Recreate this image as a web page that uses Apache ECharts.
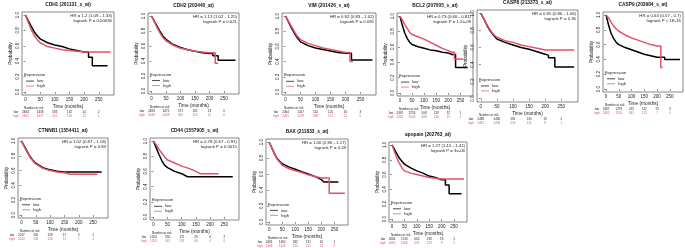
<!DOCTYPE html>
<html>
<head>
<meta charset="utf-8">
<script src="https://cdn.jsdelivr.net/npm/echarts@6/dist/echarts.min.js"></script>
<style>
  html, body { margin: 0; padding: 0; background: #fff; }
  #chart { width: 685px; height: 248px; }
</style>
</head>
<body>
<div id="chart"></div>
<script>
// panel titles and stats
const titles = [
  'CDH1 (201131_s_at)', 'CDH2 (203440_at)', 'VIM (201426_s_at)', 'BCL2 (207005_s_at)',
  'CASP8 (213373_s_at)', 'CASP9 (203984_s_at)', 'CTNNB1 (1554411_at)', 'CD44 (1557905_s_at)',
  'BAX (211833_s_at)', 'apopain (202763_at)'
]
const hrTexts = [
  'HR = 1.2 (1.09 - 1.33)', 'HR = 1.13 (1.02 - 1.25)', 'HR = 0.92 (0.83 - 1.02)', 'HR = 0.73 (0.66 - 0.81)',
  'HR = 0.95 (0.86 - 1.06)', 'HR = 0.63 (0.57 - 0.7)', 'HR = 1.02 (0.87 - 1.18)', 'HR = 0.78 (0.67 - 0.91)',
  'HR = 1.06 (0.96 - 1.17)', 'HR = 1.27 (1.15 - 1.41)'
]
const pTexts = [
  'logrank P = 0.00036', 'logrank P = 0.021', 'logrank P = 0.095', 'logrank P = 1.2e-09',
  'logrank P = 0.36', 'logrank P < 1E-16', 'logrank P = 0.84', 'logrank P = 0.0015',
  'logrank P = 0.28', 'logrank P = 3e-06'
]

// number at risk
const riskTimes = [0, 50, 100, 150, 200, 250]
const riskLow = [
  [2464, 1458, 583, 132, 14, 2], [2483, 1475, 571, 132, 13, 3], [2464, 1417, 552, 125, 16, 3],
  [2467, 1254, 508, 118, 12, 1], [2488, 1460, 581, 135, 19, 2], [2467, 1279, 475, 122, 15, 3],
  [2017, 550, 158, 17, 5, 1], [1554, 550, 172, 26, 4, 2], [2461, 1460, 582, 131, 14, 1],
  [2464, 1519, 605, 133, 18, 1]
]
const riskHigh = [
  [2465, 1427, 551, 114, 13, 1], [2444, 1408, 565, 114, 12, 0], [2465, 1479, 580, 121, 11, 0],
  [2462, 1530, 608, 130, 15, 2], [2441, 1433, 555, 111, 8, 1], [2462, 1505, 641, 123, 7, 0],
  [2020, 534, 106, 11, 1, 1], [1553, 545, 176, 40, 4, 0], [2448, 1423, 574, 115, 13, 2],
  [2465, 1366, 531, 113, 9, 2]
]

// survival curves [months, probability]
const cdh1Low = [[0,1],[10,0.92],[20,0.85],[30,0.78],[40,0.73],[50,0.69],[75,0.64],[100,0.61],[125,0.59],[150,0.56],[175,0.54],[200,0.52],[215,0.52],[215,0.45],[228,0.45],[228,0.34],[280,0.34]]
const cdh1High = [[0,1],[10,0.9],[20,0.81],[30,0.73],[40,0.68],[50,0.64],[75,0.59],[100,0.57],[125,0.55],[150,0.54],[175,0.53],[200,0.52],[290,0.52]]
const cdh2Low = [[0,1],[10,0.93],[20,0.86],[30,0.79],[40,0.73],[50,0.69],[75,0.62],[100,0.58],[125,0.55],[150,0.53],[175,0.51],[200,0.5],[212,0.5],[212,0.47],[230,0.47],[230,0.41],[290,0.41]]
const cdh2High = [[0,1],[10,0.92],[20,0.84],[30,0.77],[40,0.71],[50,0.67],[75,0.61],[100,0.57],[125,0.55],[150,0.53],[175,0.52],[200,0.51],[220,0.51],[220,0.37],[230,0.37]]
const vimLow = [[0,1],[10,0.92],[20,0.84],[30,0.77],[40,0.71],[50,0.66],[75,0.61],[100,0.58],[125,0.56],[150,0.54],[175,0.52],[200,0.51],[220,0.51],[220,0.42],[290,0.42]]
const vimHigh = [[0,1],[10,0.93],[20,0.86],[30,0.79],[40,0.73],[50,0.69],[75,0.64],[100,0.61],[125,0.58],[150,0.56],[175,0.54],[200,0.52],[215,0.52],[215,0.4],[225,0.4]]
const bcl2Low = [[0,1],[10,0.88],[20,0.78],[30,0.71],[40,0.66],[50,0.63],[75,0.6],[100,0.58],[125,0.56],[150,0.55],[175,0.53],[200,0.52],[215,0.5],[230,0.5],[230,0.33],[280,0.33]]
const bcl2High = [[0,1],[10,0.95],[20,0.89],[30,0.84],[40,0.79],[50,0.76],[75,0.73],[100,0.7],[125,0.66],[150,0.62],[175,0.58],[200,0.55],[215,0.53],[225,0.53],[225,0.44],[260,0.44]]
const casp8Low = [[0,1],[10,0.93],[20,0.85],[30,0.79],[40,0.74],[50,0.7],[75,0.66],[100,0.63],[125,0.6],[150,0.58],[175,0.55],[200,0.52],[210,0.51],[210,0.48],[230,0.48],[230,0.37],[290,0.37]]
const casp8High = [[0,1],[10,0.93],[20,0.86],[30,0.8],[40,0.75],[50,0.72],[75,0.68],[100,0.66],[125,0.63],[150,0.61],[175,0.59],[200,0.57],[290,0.57]]
const casp9Low = [[0,1],[10,0.86],[20,0.75],[30,0.68],[40,0.63],[50,0.6],[75,0.56],[100,0.53],[125,0.5],[150,0.47],[175,0.45],[200,0.43],[230,0.43],[230,0.4],[290,0.4]]
const casp9High = [[0,1],[10,0.96],[20,0.9],[30,0.85],[40,0.81],[50,0.78],[75,0.73],[100,0.69],[125,0.66],[150,0.63],[175,0.6],[200,0.58],[215,0.58],[215,0.29],[222,0.29]]
const ctnnb1Low = [[0,1],[10,0.93],[20,0.86],[30,0.79],[40,0.74],[50,0.7],[75,0.64],[100,0.61],[125,0.59],[150,0.58],[280,0.58]]
const ctnnb1High = [[0,1],[10,0.92],[20,0.85],[30,0.78],[40,0.73],[50,0.69],[75,0.63],[100,0.6],[125,0.58],[150,0.57],[170,0.55],[265,0.55]]
const cd44Low = [[0,1],[10,0.91],[20,0.82],[30,0.74],[40,0.68],[50,0.65],[75,0.6],[100,0.57],[120,0.53],[280,0.53]]
const cd44High = [[0,1],[10,0.95],[20,0.89],[30,0.84],[40,0.79],[50,0.75],[75,0.71],[100,0.67],[125,0.64],[150,0.6],[165,0.57],[230,0.57]]
const baxLow = [[0,1],[10,0.93],[20,0.86],[30,0.8],[40,0.76],[50,0.73],[75,0.69],[100,0.66],[125,0.63],[150,0.6],[175,0.57],[200,0.53],[210,0.5],[265,0.5]]
const baxHigh = [[0,1],[10,0.93],[20,0.86],[30,0.79],[40,0.75],[50,0.71],[75,0.67],[100,0.64],[125,0.62],[150,0.59],[175,0.57],[200,0.55],[230,0.55],[230,0.36],[290,0.36]]
const apopainLow = [[0,1],[10,0.94],[20,0.88],[30,0.82],[40,0.78],[50,0.74],[75,0.69],[100,0.65],[125,0.62],[150,0.58],[175,0.56],[200,0.53],[215,0.53],[215,0.46],[230,0.46],[230,0.34],[280,0.34]]
const apopainHigh = [[0,1],[10,0.91],[20,0.82],[30,0.75],[40,0.69],[50,0.65],[75,0.62],[100,0.6],[125,0.58],[150,0.56],[175,0.55],[200,0.54],[290,0.54]]

const lowCurves = [cdh1Low, cdh2Low, vimLow, bcl2Low, casp8Low, casp9Low, ctnnb1Low, cd44Low, baxLow, apopainLow]
const highCurves = [cdh1High, cdh2High, vimHigh, bcl2High, casp8High, casp9High, ctnnb1High, cd44High, baxHigh, apopainHigh]

// plot boxes: left, top, width, height (px)
const boxes = [
  [22, 12, 92, 83], [148, 13, 91, 81], [282, 13, 94, 82], [397, 13, 76, 83], [477, 10, 101, 92],
  [603, 12, 80, 80], [18, 138, 90, 80], [150, 138, 89, 82], [266, 139, 82, 86], [389, 142, 78, 80]
]

const RED = '#DF536B'
const FONT = 'Liberation Sans'
const xTicks = [0, 50, 100, 150, 200, 250]
const yTicks = [0, 0.2, 0.4, 0.6, 0.8, 1]

const chart = echarts.init(document.getElementById('chart'))

const grids = [], xAxes = [], yAxes = [], series = []
boxes.forEach((b, i) => {
  grids.push({
    left: b[0], top: b[1], width: b[2], height: b[3],
    show: true, borderColor: '#555', borderWidth: 0.7, backgroundColor: '#fff',
  })
  xAxes.push({
    gridIndex: i, type: 'value', min: -12, max: 302,
    axisLine: { show: false },
    axisTick: { show: true, length: 2, customValues: xTicks, lineStyle: { color: '#444', width: 0.6 } },
    axisLabel: { customValues: xTicks, fontSize: 4.5, margin: 2, color: '#222', fontFamily: FONT },
    splitLine: { show: false },
    name: 'Time (months)', nameLocation: 'middle', nameGap: 9,
    nameTextStyle: { fontSize: 4.8, color: '#222', fontFamily: FONT },
  })
  yAxes.push({
    gridIndex: i, type: 'value', min: -0.04, max: 1.04,
    axisLine: { show: false },
    axisTick: { show: true, length: 2, customValues: yTicks, lineStyle: { color: '#444', width: 0.6 } },
    axisLabel: {
      customValues: yTicks, fontSize: 4.5, margin: 2, rotate: 90, color: '#222', fontFamily: FONT,
      formatter: (v) => v.toFixed(1),
    },
    splitLine: { show: false },
    name: 'Probability', nameLocation: 'middle', nameGap: 9, nameRotate: 90,
    nameTextStyle: { fontSize: 4.8, color: '#222', fontFamily: FONT },
  })
  series.push({
    type: 'line', xAxisIndex: i, yAxisIndex: i, data: lowCurves[i],
    showSymbol: false, silent: true, lineStyle: { color: '#000', width: 1.5 }, z: 3,
  })
  series.push({
    type: 'line', xAxisIndex: i, yAxisIndex: i, data: highCurves[i],
    showSymbol: false, silent: true, lineStyle: { color: RED, width: 1.5 }, z: 4,
  })
})

chart.setOption({
  animation: false,
  backgroundColor: '#fff',
  grid: grids,
  xAxis: xAxes,
  yAxis: yAxes,
  series,
})

// texts: titles, stats, legend, risk tables
const graphics = []
const txt = (x, y, text, opts) => graphics.push({
  type: 'text', x, y, silent: true,
  style: Object.assign({ text, fontSize: 4.3, fontFamily: FONT, fill: '#222', textVerticalAlign: 'middle' }, opts),
})
boxes.forEach((b, i) => {
  const [l, t, w, h] = b
  txt(l + w / 2, t - 7, titles[i], { textAlign: 'center', fontWeight: 'bold', fontSize: 4.8, fill: '#111' })
  txt(l + w - 2, t + 4, hrTexts[i], { textAlign: 'right' })
  txt(l + w - 2, t + 9, pTexts[i], { textAlign: 'right' })
  // legend
  const ly = t + h * 0.76
  txt(l + 2, ly, 'Expression', { fontSize: 4.3 })
  graphics.push({ type: 'line', silent: true, shape: { x1: l + 4, y1: ly + 6, x2: l + 12, y2: ly + 6 }, style: { stroke: '#000', lineWidth: 0.7 } })
  graphics.push({ type: 'line', silent: true, shape: { x1: l + 4, y1: ly + 11, x2: l + 12, y2: ly + 11 }, style: { stroke: RED, lineWidth: 0.7 } })
  txt(l + 15, ly + 6, 'low', {})
  txt(l + 15, ly + 11, 'high', {})
  // number at risk
  const by = t + h
  txt(l + 2, by + 13, 'Number at risk', { fontSize: 3 })
  txt(l - 6, by + 17, 'low', { fontSize: 3, textAlign: 'center' })
  txt(l - 6, by + 21, 'high', { fontSize: 3, textAlign: 'center', fill: RED })
  riskTimes.forEach((tm, k) => {
    const px = chart.convertToPixel({ xAxisIndex: i }, tm)
    txt(px, by + 17, String(riskLow[i][k]), { fontSize: 3, textAlign: 'center' })
    txt(px, by + 21, String(riskHigh[i][k]), { fontSize: 3, textAlign: 'center', fill: RED })
  })
})
chart.setOption({ graphic: graphics })
</script>
</body>
</html>
